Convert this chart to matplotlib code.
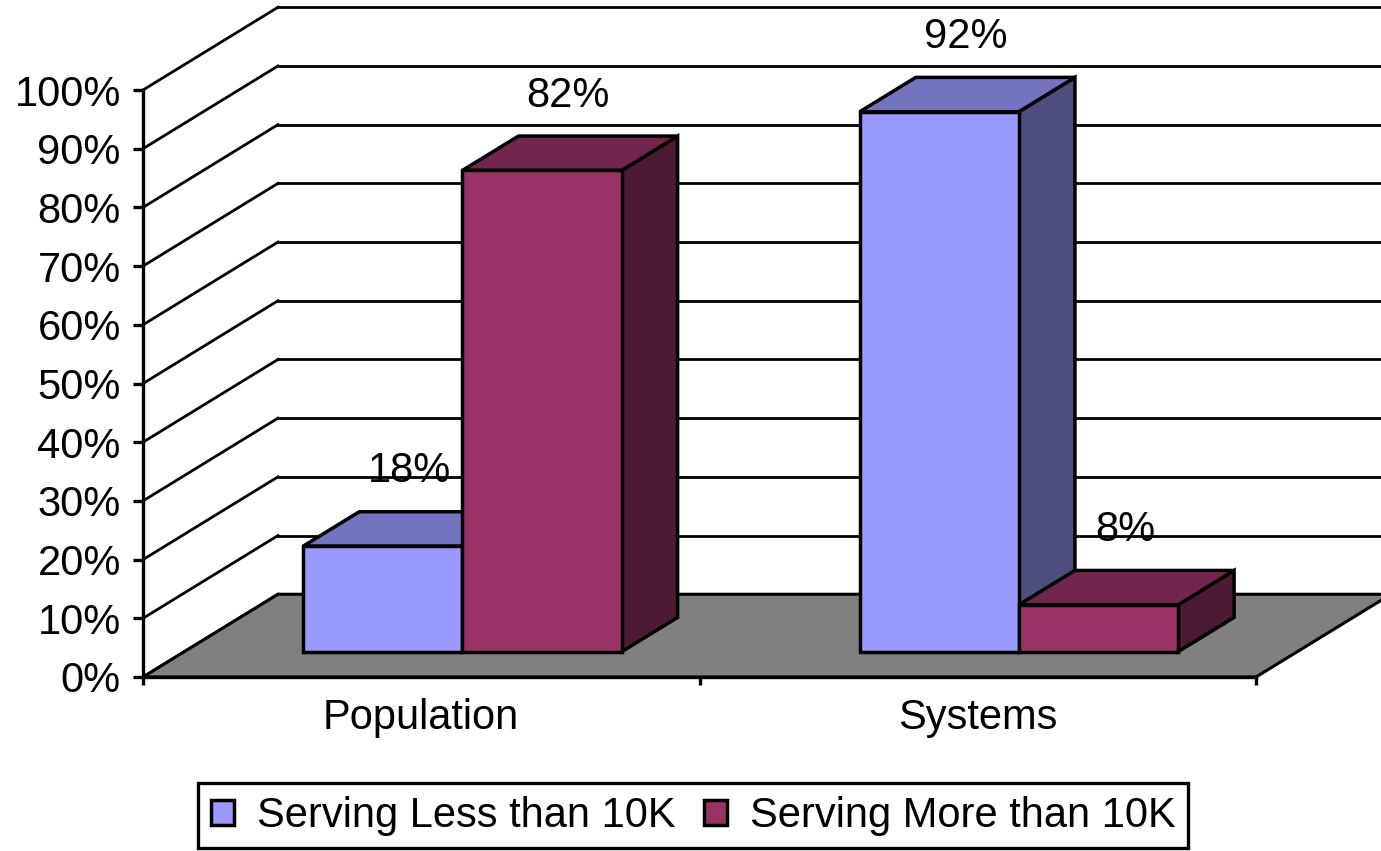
import matplotlib.pyplot as plt
from matplotlib.patches import Polygon, Patch

plt.rcParams['font.family'] = ['Liberation Sans', 'DejaVu Sans']

# data
categories = ['Population', 'Systems']
series_names = ['Serving Less than 10K', 'Serving More than 10K']
less_10k = [18, 92]
more_10k = [82, 8]
values = [less_10k, more_10k]

# face colours (front, top, side) for each series
front_cols = ['#9999FF', '#993366']
top_cols = ['#7373BF', '#73264D']
side_cols = ['#4D4D80', '#4D1A33']

# depth vector of the 3d box in data units (x: categories, y: percent)
DX = 0.2426
DY = 14.1
BAR_W = 0.286
BAR_OFF = 0.214
D0, D1 = 0.305, 0.72
FS = 30


def P(u, v, d):
    return (u + d * DX, v + d * DY)


fig = plt.figure(figsize=(13.81, 8.51), dpi=100)
ax = fig.add_axes([143 / 1381, 174 / 851, 1113 / 1381, 587 / 851])
ax.set_xlim(0, 2)
ax.set_ylim(0, 100)
ax.patch.set_visible(False)

# walls: back wall gridlines and side wall diagonals
for v in range(0, 101, 10):
    (x0, y0), (x1, y1) = P(0, v, 1), P(2, v, 1)
    ax.plot([x0, x1], [y0, y1], color='black', lw=2, clip_on=False, zorder=1)
    (x0, y0), (x1, y1) = P(0, v, 0), P(0, v, 1)
    ax.plot([x0, x1], [y0, y1], color='black', lw=2, clip_on=False, zorder=1)

# floor
floor = Polygon([P(0, 0, 0), P(2, 0, 0), P(2, 0, 1), P(0, 0, 1)], closed=True,
                facecolor='#808080', edgecolor='black', lw=2.2, clip_on=False, zorder=1.5)
ax.add_patch(floor)

# bars, drawn back-left to front-right
z = 3
for i in range(len(categories)):
    for j in range(len(series_names)):
        v = values[j][i]
        u0 = i + BAR_OFF + j * BAR_W
        u1 = u0 + BAR_W
        faces = [
            ([P(u1, 0, D0), P(u1, 0, D1), P(u1, v, D1), P(u1, v, D0)], side_cols[j]),
            ([P(u0, v, D0), P(u1, v, D0), P(u1, v, D1), P(u0, v, D1)], top_cols[j]),
            ([P(u0, 0, D0), P(u1, 0, D0), P(u1, v, D0), P(u0, v, D0)], front_cols[j]),
        ]
        for pts, col in faces:
            ax.add_patch(Polygon(pts, closed=True, facecolor=col, edgecolor='black',
                                 lw=2.5, joinstyle='miter', clip_on=False, zorder=z))
        z += 1
        lx, ly = P((u0 + u1) / 2, v, 0.5)
        ax.text(lx, ly + 10, f'{v}%', ha='center', va='center', fontsize=FS,
                zorder=20, clip_on=False)

# axes styling
for s in ['top', 'right']:
    ax.spines[s].set_visible(False)
for s in ['left', 'bottom']:
    ax.spines[s].set_linewidth(2.4)
    ax.spines[s].set_zorder(2)

ax.set_yticks(range(0, 101, 10))
ax.set_yticklabels([f'{t}%' for t in range(0, 101, 10)])
ax.tick_params(axis='y', direction='out', length=7, width=2.4, labelsize=FS, pad=9)

ax.set_xticks([0, 1, 2])
ax.set_xticklabels(['', '', ''])
ax.set_xticks([0.5, 1.5], minor=True)
ax.set_xticklabels(categories, minor=True)
ax.tick_params(axis='x', which='major', direction='out', length=6, width=2.4)
ax.tick_params(axis='x', which='minor', length=0, labelsize=FS, pad=15)

# legend
handles = [Patch(facecolor=front_cols[k], edgecolor='black', lw=2.5) for k in range(2)]
leg = fig.legend(handles, series_names, loc='lower center', bbox_to_anchor=(0.502, 0.003),
                 ncol=2, fontsize=FS, frameon=True, fancybox=False, edgecolor='black',
                 framealpha=1, handlelength=0.55, handleheight=0.55, handletextpad=0.55,
                 columnspacing=0.7, borderpad=0.3, borderaxespad=0)
leg.get_frame().set_linewidth(2.4)

fig.savefig('out.png', dpi=100)
